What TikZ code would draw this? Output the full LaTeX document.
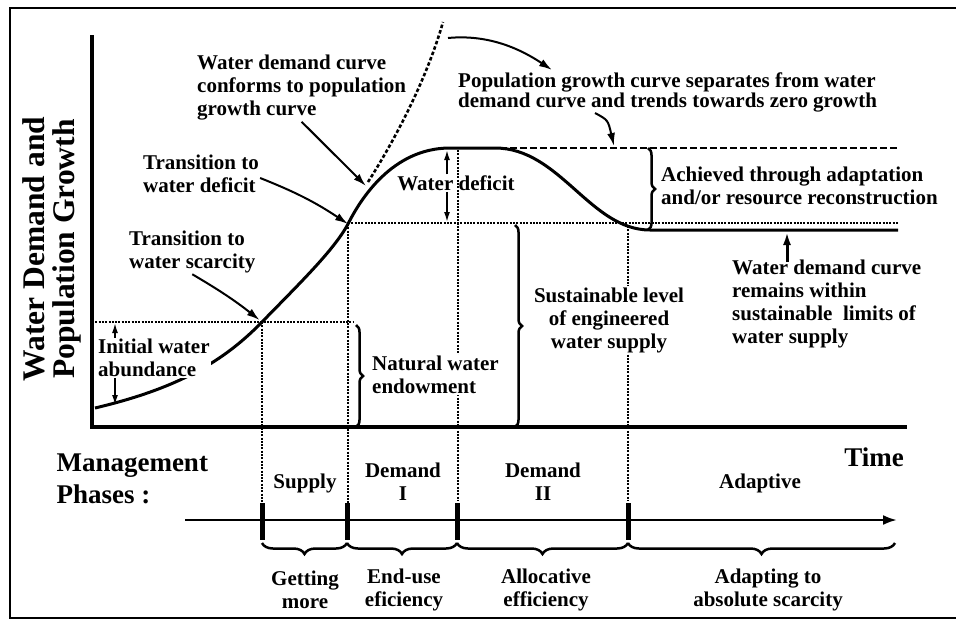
\documentclass[tikz,border=0pt]{standalone}
\usepackage{fontspec}
\setmainfont{Liberation Serif}
\usetikzlibrary{arrows.meta,decorations.pathreplacing}
\begin{document}
\begin{tikzpicture}[x=1pt,y=-1pt,
  lbl/.style={font=\bfseries\fontsize{21}{23}\selectfont, inner sep=1pt, align=left},
  lblc/.style={lbl, align=center},
  curve/.style={line width=3pt},
  axis/.style={line width=4pt},
  dotline/.style={line width=1.4pt, dash pattern=on 2pt off 1.3pt},
  popdot/.style={line width=2.6pt, dash pattern=on 3.5pt off 2.2pt},
  plateau/.style={line width=2.5pt, dash pattern=on 7pt off 3pt},
  conn/.style={line width=2pt, -{Latex[length=13pt,width=8pt]}},
  sconn/.style={line width=1.6pt, -{Latex[length=10pt,width=6pt]}},
  tickmark/.style={line width=5pt},
  vbrc/.style={line width=2.5pt, decorate, decoration={brace, amplitude=7pt}},
  hbrc/.style={line width=2.5pt, decorate, decoration={brace, amplitude=11pt}},
]
\useasboundingbox (0,0) rectangle (956,622);
\draw[line width=2pt] (10,8) rectangle (975,618);

% coordinates
\coordinate (ps) at (262,322);
\coordinate (pd) at (348,224);
\coordinate (pc) at (366,186);
\coordinate (ptop) at (443,22);

% axes
\draw[axis] (92,35) -- (92,427) -- (907,427);

% dotted guides
\draw[dotline] (92,322) -- (353,322);
\draw[dotline] (348,223) -- (898,223);
\draw[dotline] (262,322) -- (262,503);
\draw[dotline] (348,224) -- (348,503);
\draw[dotline] (458,150) -- (458,500);
\draw[dotline] (628,226) -- (628,500);

% plateau dashed
\draw[plateau] (490,148) -- (898,148);

% population curve
\draw[popdot] (368,182) .. controls (398,135) and (428,75) .. (ptop);

% water demand curve
\draw[curve] (95,408) .. controls (180,388) and (225,360) .. (ps)
  .. controls (300,283) and (334,250) .. (pd)
  .. controls (360,200) and (392,148) .. (450,148) -- (495,148)
  .. controls (560,148) and (590,230) .. (650,230) -- (898,230);

% vertical braces
\draw[vbrc] (648,148) -- (648,230);
\draw[vbrc] (356,325) -- (356,427);
\draw[vbrc] (515,225) -- (515,427);

% timeline
\draw[line width=2.5pt,-{Latex[length=14pt,width=10pt]}] (185,520) -- (897,520);
\foreach \x in {262,347,457,628} \draw[tickmark] (\x,503) -- (\x,540);
\draw[hbrc] (347,543) -- (262,543);
\draw[hbrc] (457,543) -- (347,543);
\draw[hbrc] (628,543) -- (457,543);
\draw[hbrc] (895,543) -- (628,543);

% labels
\node[font=\bfseries\fontsize{31.5}{30}\selectfont, rotate=90, align=center] (ylab) at (52,249) {Water Demand and\\Population Growth};

\node[lbl, anchor=west] (tconf) at (196,88) {Water demand curve\\conforms to population\\growth curve};
\node[lbl, anchor=west] (tdef) at (142,174) {Transition to\\water deficit};
\node[lbl, anchor=west] (tscar) at (128,252) {Transition to\\water scarcity};
\node[lbl, anchor=west, fill=white] (tinit) at (97,358) {Initial water\\abundance};
\node[lbl, anchor=west, fill=white] (tnat) at (371,375) {Natural water\\endowment};
\node[lblc, fill=white] (tsus) at (609,320) {Sustainable level\\of engineered\\water supply};
\node[lbl] (twd) at (456,183) {Water deficit};
\node[lbl, anchor=west, font=\bfseries\fontsize{21}{20}\selectfont] (tpop) at (457,92) {Population growth curve separates from water\\demand curve and trends towards zero growth};
\node[lbl, anchor=west] (tach) at (660,186) {Achieved through adaptation\\and/or resource reconstruction};
\node[lbl, anchor=north west] (trem) at (731,259) {Water demand curve\\remains within\\sustainable\ \ limits of\\water supply};

\node[font=\bfseries\fontsize{27}{32}\selectfont, align=left, anchor=west] (mgmt) at (53,479) {Management\\Phases :};
\node[font=\bfseries\fontsize{27}{30}\selectfont] (time) at (874,457) {Time};

\node[lblc] (ph1) at (305,483) {Supply};
\node[lblc] (ph2) at (403,482) {Demand\\I};
\node[lblc] (ph3) at (543,482) {Demand\\II};
\node[lblc] (ph4) at (760,483) {Adaptive};

\node[lblc] (g1) at (305,590) {Getting\\more};
\node[lblc] (g2) at (404,590) {End-use\\eficiency};
\node[lblc] (g3) at (546,590) {Allocative\\efficiency};
\node[lblc] (g4) at (768,590) {Adapting to\\absolute scarcity};

% connectors
\draw[conn] (tconf.south) -- (pc);
\draw[conn] ([yshift=-4pt]tdef.east) to[bend left=6] (pd);
\draw[conn, shorten >=3pt] (tscar.south) to[bend left=4] (ps);

\coordinate (ia1) at (115,323);
\coordinate (ia2) at (115,405);
\draw[sconn] (tinit.north -| ia1) -- (ia1);
\draw[sconn] (tinit.south -| ia2) -- (ia2);

\coordinate (wd1) at (447,150);
\coordinate (wd2) at (447,222);
\draw[sconn] (twd.north -| wd1) -- (wd1);
\draw[sconn] (twd.south -| wd2) -- (wd2);

\coordinate (a1) at (448,38);
\coordinate (a2) at (552,70);
\draw[conn] (a1) .. controls (490,34) and (522,50) .. (a2);
\coordinate (a3) at (595,113);
\coordinate (plat) at (614,146);
\draw[conn] (a3) .. controls (608,120) .. (plat);

\coordinate (r1) at (787,262);
\coordinate (r2) at (787,232);
\draw[conn, line width=3pt] (r1) -- (r2);
\end{tikzpicture}
\end{document}
